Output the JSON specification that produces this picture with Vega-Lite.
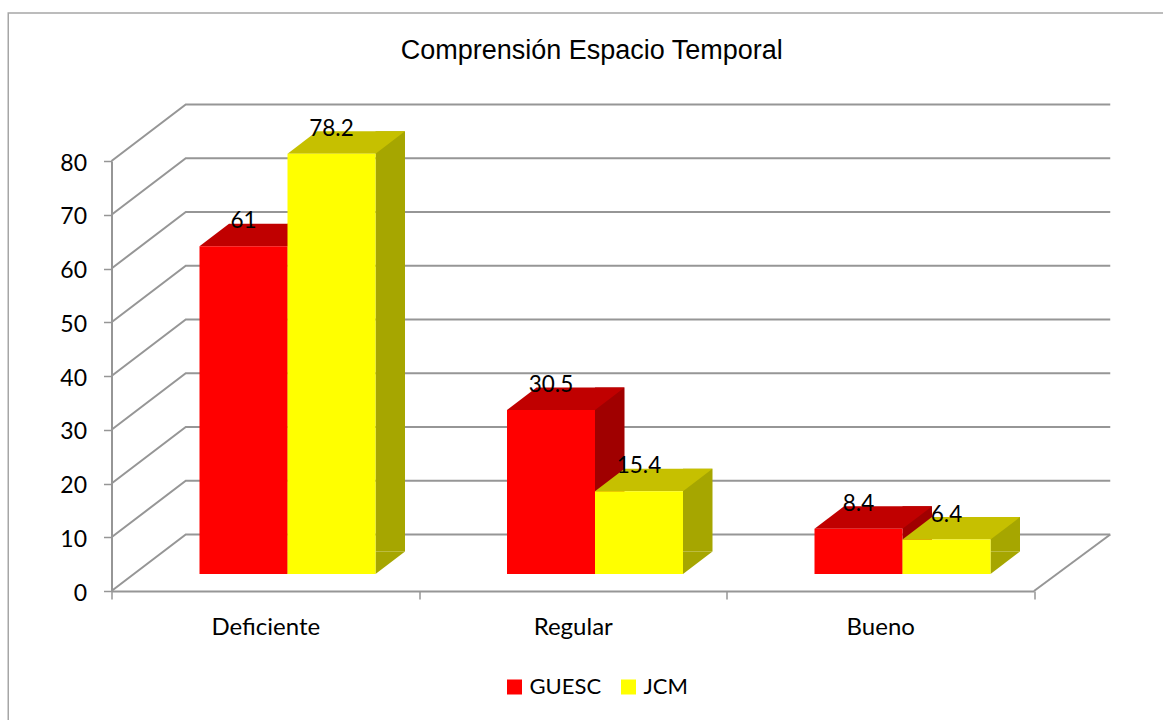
{
"$schema":"https://vega.github.io/schema/vega-lite/v6.json",
"width":922.5,"height":430,
"autosize":{"type":"none"},
"padding":{"left":111.5,"top":161,"right":129,"bottom":129},
"background":"white",
"view":{"stroke":null},
"title":{"text":"Comprensión Espacio Temporal","font":"Liberation Sans","fontSize":27,"fontWeight":"normal","color":"#000000","anchor":"middle","dx":19,"baseline":"middle","offset":-68},
"datasets":{
"bars":[
{"category":"Deficiente","series":"GUESC","value":61},
{"category":"Deficiente","series":"JCM","value":78.2},
{"category":"Regular","series":"GUESC","value":30.5},
{"category":"Regular","series":"JCM","value":15.4},
{"category":"Bueno","series":"GUESC","value":8.4},
{"category":"Bueno","series":"JCM","value":6.4}
],
"levels":[{"level":0},{"level":10},{"level":20},{"level":30},{"level":40},{"level":50},{"level":60},{"level":70},{"level":80}]
},
"encoding":{
"x":{"field":"category","type":"nominal","title":null,"sort":["Deficiente","Regular","Bueno"],
"scale":{"domain":["Deficiente","Regular","Bueno"],"paddingInner":0,"paddingOuter":0},
"axis":{"tickBand":"extent","labelAngle":0,"labelFont":"Lato","labelFontSize":24,"labelColor":"#000000","labelPadding":16,"tickSize":8,"tickWidth":1.5,"tickColor":"#969696","domainColor":"#969696","domainWidth":2,"grid":false}}
},
"layer":[
{"data":{"values":[{"frame":"chart"}]},"mark":{"type":"point","shape":"M-257,150 L-257,-578 L910,-578","size":4,"filled":false,"stroke":"#a6a6a6","strokeWidth":1.5,"opacity":1},
 "encoding":{"x":{"datum":"Deficiente"},"y":{"datum":0,"type":"quantitative"}}},
{"data":{"name":"levels"},"mark":{"type":"point","shape":"M-153.75,0 L-79.5,-56.5 L845,-56.5","size":4,"filled":false,"stroke":"#969696","strokeWidth":2,"opacity":1},
 "encoding":{"x":{"datum":"Deficiente"},"y":{"field":"level","type":"quantitative","scale":{"domain":[0,80]},"title":null,
  "axis":{"values":[0,10,20,30,40,50,60,70,80],"labelFont":"Lato","labelFontSize":23,"labelColor":"#000000","labelPadding":17,"labelOffset":2,"tickSize":8,"tickWidth":1.5,"tickColor":"#969696","domainColor":"#969696","domainWidth":2,"grid":false}}}},
{"data":{"values":[{"level":0}]},"mark":{"type":"point","shape":"M845,-56.5 L768.75,0","size":4,"filled":false,"stroke":"#969696","strokeWidth":2,"opacity":1},
 "encoding":{"x":{"datum":"Deficiente"},"y":{"field":"level","type":"quantitative"}}},
{"data":{"name":"bars"},
 "encoding":{
  "y":{"field":"value","type":"quantitative","scale":{"domain":[0,80]},"title":null}
 },
 "layer":[
  {"mark":{"type":"rule","strokeWidth":29.5,"strokeOpacity":1,"xOffset":{"expr":"datum.series==='GUESC'?37:125"},"yOffset":-39.5,"y2Offset":-39.5,"opacity":1},
   "encoding":{"y2":{"datum":0},"color":{"condition":{"test":"datum.series==='GUESC'","value":"#a00000"},"value":"#a6a600"}}},
  {"mark":{"type":"point","shape":"M44,0 L73.5,-22.5 L44,-22.5 Z","size":4,"filled":true,"opacity":1,"fillOpacity":1,"yOffset":-17},
   "encoding":{"xOffset":{"field":"series","type":"nominal","scale":{"domain":["GUESC","JCM"],"range":[88,264],"paddingInner":0,"paddingOuter":0}},"y":{"datum":0,"type":"quantitative"},"color":{"condition":{"test":"datum.series==='GUESC'","value":"#a00000"},"value":"#a6a600"}}},
  {"mark":{"type":"point","shape":"M-44,0 L44,0 L73.5,-22.5 L-14.5,-22.5 Z","size":4,"filled":true,"opacity":1,"yOffset":-17},
   "encoding":{"xOffset":{"field":"series","type":"nominal","scale":{"domain":["GUESC","JCM"],"range":[88,264],"paddingInner":0,"paddingOuter":0}},"color":{"condition":{"test":"datum.series==='GUESC'","value":"#c00000"},"value":"#c6c000"}}},
  {"mark":{"type":"bar","yOffset":-17,"y2Offset":-17,"opacity":1},
   "encoding":{"xOffset":{"field":"series","type":"nominal","scale":{"domain":["GUESC","JCM"],"range":[88,264],"paddingInner":0,"paddingOuter":0}},"y2":{"datum":0},"color":{"field":"series","type":"nominal","title":null,"scale":{"domain":["GUESC","JCM"],"range":["#ff0000","#ffff00"]},
     "legend":{"orient":"none","legendX":392,"legendY":515,"direction":"horizontal","symbolType":"square","symbolSize":225,"labelFont":"Lato","labelFontSize":22,"labelColor":"#000000","symbolStrokeWidth":0,"columnPadding":16}}}},
  {"mark":{"type":"text","font":"Lato","fontSize":22.5,"color":"#000000","baseline":"middle","align":"center","yOffset":-42},
   "encoding":{"xOffset":{"field":"series","type":"nominal","scale":{"domain":["GUESC","JCM"],"range":[88,264],"paddingInner":0,"paddingOuter":0}},"text":{"field":"value","type":"quantitative"}}}
 ]}
]
}
